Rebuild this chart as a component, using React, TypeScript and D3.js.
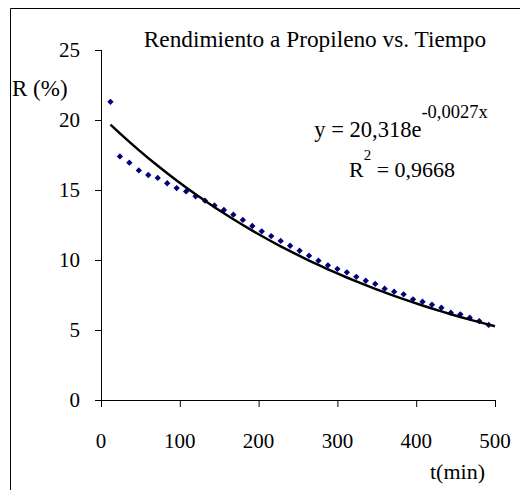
import React from "react";
import * as d3 from "d3";

// Data
const timeMin: number[] = [12, 24, 36, 48, 60, 72, 84, 96, 108, 120, 132, 144, 156, 168, 180, 192, 204, 216, 228, 240, 252, 264, 276, 288, 300, 312, 324, 336, 348, 360, 372, 384, 396, 408, 420, 432, 444, 456, 468, 480, 492];
const yieldPct: number[] = [21.3, 17.4, 16.95, 16.4, 16.07, 15.86, 15.48, 15.14, 14.9, 14.55, 14.24, 13.9, 13.57, 13.24, 12.86, 12.43, 12.05, 11.71, 11.36, 11.02, 10.66, 10.31, 9.95, 9.62, 9.36, 9.12, 8.8, 8.52, 8.29, 7.95, 7.74, 7.55, 7.19, 7.02, 6.81, 6.59, 6.24, 6.12, 5.88, 5.64, 5.36];
const xTicks: number[] = [0, 100, 200, 300, 400, 500];
const yTicks: number[] = [0, 5, 10, 15, 20, 25];
// Exponential trendline coefficients shown on the chart
const trendA = 20.318;
const trendK = -0.0027;
const trendEnd = 500;

const title = "Rendimiento a Propileno vs. Tiempo";
const yLabel = "R (%)";
const xLabel = "t(min)";
const eqMain = "y = 20,318e";
const eqSup = "-0,0027x";
const r2Val = " = 0,9668";

const FONT = "Liberation Serif";
const ts: React.CSSProperties = { fontFamily: FONT };

export default function App() {
  const x = d3.scaleLinear().domain([0, 500]).range([101, 495]);
  const y = d3.scaleLinear().domain([0, 25]).range([400, 50]);

  const trendXs = [...timeMin, trendEnd];
  const trendPts: [number, number][] = trendXs.map((t) => [t, trendA * Math.exp(trendK * t)]);
  const line = d3
    .line<[number, number]>()
    .x((d) => x(d[0]))
    .y((d) => y(d[1]));

  const marker = d3.symbol().type(d3.symbolSquare).size(20)();

  return (
    <svg
      width={520}
      height={490}
      style={{ position: "fixed", left: 0, top: 0, background: "#fff", fontFamily: FONT }}
    >
      <rect x={0} y={0} width={520} height={490} fill="#fff" />
      {/* outer frame (top and left visible) */}
      <line x1={10.5} y1={8.5} x2={520} y2={8.5} stroke="#000" strokeWidth={1} />
      <line x1={10.5} y1={8.5} x2={10.5} y2={490} stroke="#000" strokeWidth={1} />

      {/* title */}
      <text x={315} y={47} fontSize={23.3} textAnchor="middle" fill="#000" style={ts}>
        {title}
      </text>

      {/* axes */}
      <line x1={x(0) + 0.5} y1={y(25)} x2={x(0) + 0.5} y2={y(0)} stroke="#000" />
      <line x1={x(0)} y1={y(0) + 0.5} x2={x(500)} y2={y(0) + 0.5} stroke="#000" />
      {yTicks.map((t) => (
        <g key={"y" + t}>
          <line x1={x(0) - 6} x2={x(0)} y1={y(t) + 0.5} y2={y(t) + 0.5} stroke="#000" />
          <text x={80} y={y(t) + 7} fontSize={21} textAnchor="end" fill="#000" style={ts}>
            {t}
          </text>
        </g>
      ))}
      {xTicks.map((t) => (
        <g key={"x" + t}>
          <line x1={x(t) + 0.5} x2={x(t) + 0.5} y1={y(0)} y2={y(0) + 7} stroke="#000" />
          <text x={x(t)} y={448} fontSize={21} textAnchor="middle" fill="#000" style={ts}>
            {t}
          </text>
        </g>
      ))}

      {/* axis labels */}
      <text x={12} y={96} fontSize={23} fill="#000" style={ts}>
        {yLabel}
      </text>
      <text x={485} y={479} fontSize={22} textAnchor="end" fill="#000" style={ts}>
        {xLabel}
      </text>

      {/* data markers */}
      {timeMin.map((t, i) => (
        <path
          key={"p" + i}
          d={marker || ""}
          transform={`translate(${x(t)},${y(yieldPct[i])}) rotate(45)`}
          fill="#000080"
        />
      ))}

      {/* trendline */}
      <path d={line(trendPts) || ""} fill="none" stroke="#000" strokeWidth={2.5} />

      {/* equation */}
      <text x={401} y={137} fontSize={22.5} textAnchor="middle" fill="#000" style={ts}>
        <tspan>{eqMain}</tspan>
        <tspan fontSize={18.5} dy={-19}>
          {eqSup}
        </tspan>
      </text>
      <text x={402} y={177} fontSize={22} textAnchor="middle" fill="#000" style={ts}>
        <tspan>R</tspan>
        <tspan fontSize={15} dy={-17}>
          2
        </tspan>
        <tspan dy={17}>{r2Val}</tspan>
      </text>
    </svg>
  );
}
